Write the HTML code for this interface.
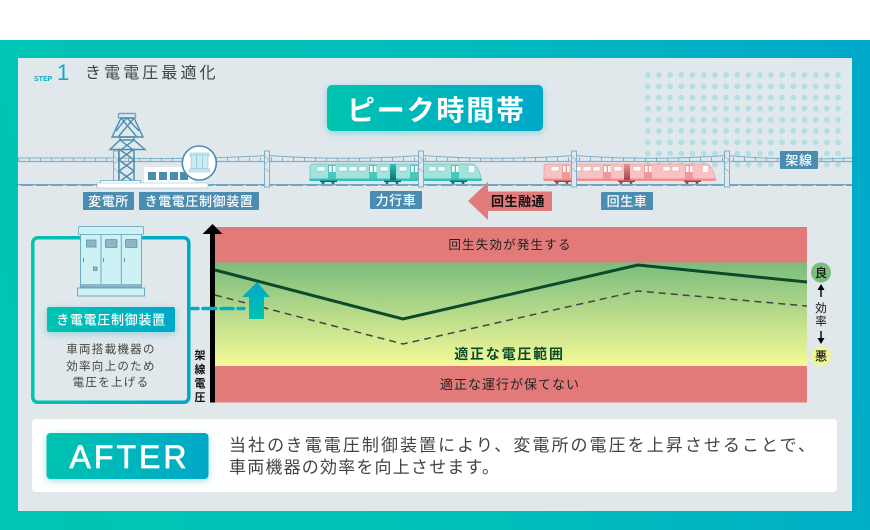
<!DOCTYPE html>
<html lang="ja"><head><meta charset="utf-8"><style>
html,body{margin:0;padding:0;background:#fff;width:870px;height:530px;overflow:hidden}
svg{display:block;position:absolute;left:0;top:0}
text{font-family:"Liberation Sans","Noto Sans CJK JP",sans-serif}
.w{fill:#fff;font-weight:500;font-size:13px;text-anchor:middle;letter-spacing:.6px}
.k{fill:#222;font-size:12.500px;text-anchor:middle;letter-spacing:1.200px}
.g{fill:#444;font-size:11.500px;text-anchor:middle;letter-spacing:1.300px}
.v{fill:#111;font-size:11px;text-anchor:middle;font-weight:700}
.b{fill:#4b8db1}
.l{stroke:#7fafc6;fill:none}
</style></head><body>
<svg width="870" height="530" viewBox="0 0 870 530" xmlns="http://www.w3.org/2000/svg">
<defs>
<linearGradient id="o" gradientUnits="userSpaceOnUse" x1="0" y1="400" x2="870" y2="180"><stop offset="0" stop-color="#00c5b2"/><stop offset=".5" stop-color="#00c0ba"/><stop offset="1" stop-color="#00a9c9"/></linearGradient>
<linearGradient id="h"><stop offset="0" stop-color="#00c4b0"/><stop offset="1" stop-color="#00a8c8"/></linearGradient>
<linearGradient id="hb" gradientUnits="userSpaceOnUse" x1="31" y1="0" x2="190" y2="0"><stop offset="0" stop-color="#00c4b0"/><stop offset="1" stop-color="#00a8c8"/></linearGradient>
<linearGradient id="up" x1="0" y1="1" x2="0" y2="0"><stop offset="0" stop-color="#00c4b0"/><stop offset="1" stop-color="#00a8c8"/></linearGradient>
<linearGradient id="gr" x1="0" y1="0" x2="0" y2="1"><stop offset="0" stop-color="#7abc7d"/><stop offset="1" stop-color="#f5f998"/></linearGradient>
<linearGradient id="gt" x1="0" y1="0" x2="0" y2="1"><stop offset="0" stop-color="#33c0b6"/><stop offset="1" stop-color="#0a6f72"/></linearGradient>
<linearGradient id="gp" x1="0" y1="0" x2="0" y2="1"><stop offset="0" stop-color="#ee9090"/><stop offset="1" stop-color="#9e4448"/></linearGradient>
<filter id="s" x="-20%" y="-40%" width="140%" height="190%"><feDropShadow dx="0" dy="2" stdDeviation="4" flood-color="#00a9b5" flood-opacity=".35"/></filter>
<g id="pole"><rect x="-2.500" y="-33" width="5" height="36" fill="#e0e8ec" stroke="#7fafc6"/><path d="M-2.500-28L2.500-24M2.500-24L-2.500-20M-2.500-16L2.500-12" stroke="#7fafc6" stroke-width=".6"/></g>
<g id="train">
<path d="M1 1Q1 0 3 0H163Q168 1 171 13V16H0V1Z" fill="var(--a)" stroke="var(--e)" stroke-width=".5"/>
<path d="M-1 14.500H172V16.500L169 17H0Z" fill="var(--b)"/>
<g fill="var(--b)" opacity=".8"><rect x="18" y="1" width="8" height="14"/><rect x="59" y="1" width="8" height="14"/><rect x="100" y="1" width="8" height="14"/><rect x="141" y="1" width="8" height="14"/></g>
<rect x="80" y="0" width="6" height="16" style="fill:var(--g)"/>
<g fill="#fff" stroke="var(--e)" stroke-width=".4"><rect x="7" y="2.500" width="8" height="4.500" rx="1"/><rect x="29" y="2.500" width="8" height="4.500" rx="1"/><rect x="39" y="2.500" width="8" height="4.500" rx="1"/><rect x="49" y="2.500" width="7" height="4.500" rx="1"/><rect x="70" y="2.500" width="8" height="4.500" rx="1"/><rect x="89" y="2.500" width="8" height="4.500" rx="1"/><rect x="119" y="2.500" width="7" height="4.500" rx="1"/><rect x="128" y="2.500" width="7" height="4.500" rx="1"/></g>
<g fill="#fff"><rect x="19" y="2" width="2.600" height="6"/><rect x="23" y="2" width="2.600" height="6"/><rect x="60" y="2" width="2.600" height="6"/><rect x="64" y="2" width="2.600" height="6"/><rect x="101" y="2" width="2.600" height="6"/><rect x="105" y="2" width="2.600" height="6"/><rect x="142" y="2" width="2.600" height="6"/><rect x="146" y="2" width="2.600" height="6"/><rect x="159" y="2" width="5" height="6"/></g>
<g fill="var(--d)"><rect x="10" y="16.500" width="17" height="1.500"/><circle cx="13" cy="18.500" r="1.500"/><circle cx="23" cy="18.500" r="1.500"/><rect x="74" y="16.500" width="17" height="1.500"/><circle cx="77" cy="18.500" r="1.500"/><circle cx="87" cy="18.500" r="1.500"/><rect x="140" y="16.500" width="17" height="1.500"/><circle cx="143" cy="18.500" r="1.500"/><circle cx="153" cy="18.500" r="1.500"/></g>
</g>
</defs>

<rect x="0" y="40" width="870" height="490" fill="url(#o)"/>
<rect x="18" y="58" width="834" height="453" fill="#e0e8ec"/>
<g stroke="#b1e0e4" stroke-width="5.800" stroke-linecap="round" stroke-dasharray="0 11.200" fill="none">
<path d="M647.700 75H845"/><path d="M647.700 86.200H845"/><path d="M647.700 97.400H845"/><path d="M647.700 108.600H845"/><path d="M647.700 119.800H845"/><path d="M647.700 131H845"/><path d="M647.700 142.200H845"/><path d="M647.700 153.400H845"/><path d="M647.700 164.600H845"/>
</g>

<text x="34" y="81" font-size="7" font-weight="700" fill="#12a9c4">STEP</text>
<text x="57" y="80" font-size="22" fill="#12a9c4">1</text>
<text x="85" y="78" font-size="16" fill="#3f4448" letter-spacing="3.100">き電電圧最適化</text>

<rect x="327" y="85" width="216" height="46" rx="5" fill="url(#h)" filter="url(#s)"/>
<text x="347" y="120" font-size="28" font-weight="700" fill="#fff" textLength="177">ピーク時間帯</text>

<!-- wires -->
<path d="M18 158H116Q190 160 267 155.500Q345 161 421 155.500Q498 161 574 155.500Q650 161 727 155.500Q790 161 852 158" class="l" stroke-width="1"/>
<path d="M18 161.500H852" class="l" stroke-width="1.200"/>
<path d="M18 159.500H852" stroke="#7fafc6" stroke-width="4" stroke-dasharray="1 10" fill="none"/>
<path d="M18 185H852" stroke="#4b8db1" stroke-width="1.600"/>
<path d="M18 185.800H852" stroke="#fff" stroke-width="1" stroke-dasharray="3 12" opacity=".8"/>

<use href="#pole" x="116" y="184"/><use href="#pole" x="267" y="184"/>

<g style="--a:#a4e2dc;--b:#33c0b6;--d:#0a6f72;--e:#4fb6ae;--g:url(#gt)"><use href="#train" x="310" y="164"/></g>
<g style="--a:#f8c2c2;--b:#ee9090;--d:#9e4448;--e:#e58a8a;--g:url(#gp)"><use href="#train" x="544" y="164"/></g>
<use href="#pole" x="421" y="184"/><use href="#pole" x="574" y="184"/><use href="#pole" x="727" y="184"/>

<!-- tower -->
<g stroke="#4b8db1" fill="none" stroke-width="1.400">
<rect x="118.500" y="113.500" width="17" height="4.500" rx="1" fill="#e0e8ec" stroke="#6fa6bf"/>
<path d="M121 118L112 137H143L134 118Z"/>
<path d="M110 149.500L120 140H134L145 149.500Z"/>
<path d="M121 118L137 137M134 118L118 137M126.500 118L116 131M127 118L139 131M120 137H134M120 137V140M134 137V140M120 140L132 149M134 140L122 149"/>
<path d="M119 149V182M134 149V182M119 149L134 160L119 171L134 182M134 149L119 160L134 171L119 182" stroke-width="1.500"/>
</g>
<!-- building -->
<rect x="144" y="167" width="50" height="16" fill="#fff"/>
<g class="b"><rect x="148" y="172" width="8" height="8"/><rect x="159" y="172" width="8" height="8"/><rect x="170" y="172" width="8" height="8"/><rect x="180" y="172" width="8" height="8"/></g>
<rect x="100.500" y="180.500" width="40" height="3" fill="#fff" stroke="#5c9cba" stroke-width=".7"/>
<rect x="97" y="183" width="111" height="5" rx="1" fill="#fff" stroke="#8dbcd0" stroke-width=".6"/>
<circle cx="199.300" cy="163" r="17" fill="#fff" stroke="#4b8db1" stroke-width="1.600"/>
<rect x="190" y="153" width="19" height="3" fill="#c9eef2" stroke="#6fa9c0" stroke-width=".4"/>
<rect x="191" y="155" width="17" height="14" fill="#c9eef2" stroke="#6fa9c0" stroke-width=".4"/>
<path d="M196.700 155V169M202.300 155V169" stroke="#6fa9c0" stroke-width=".5"/>
<rect x="189.500" y="169" width="20" height="3" fill="#c9eef2" stroke="#6fa9c0" stroke-width=".4"/>

<!-- labels -->
<rect x="83" y="192" width="51" height="18" rx="1" class="b"/><text x="108.500" y="206" class="w">変電所</text>
<rect x="139" y="192" width="120" height="18" rx="1" class="b"/><text x="199" y="206" class="w">き電電圧制御装置</text>
<rect x="370" y="191" width="52" height="18" rx="1" class="b"/><text x="396" y="205" class="w">力行車</text>
<rect x="601" y="192" width="52" height="18" rx="1" class="b"/><text x="627" y="206" class="w">回生車</text>
<rect x="780" y="151" width="38" height="18" rx="1" class="b"/><text x="799" y="165" class="w">架線</text>

<path d="M468 201L488 182V191.500H552V211H488V220Z" fill="#e27b7b"/>
<text x="518" y="206" font-size="13" font-weight="700" fill="#111" text-anchor="middle" letter-spacing=".5">回生融通</text>

<!-- chart -->
<rect x="215" y="227" width="592" height="36" fill="#e27a7a"/>
<rect x="215" y="262.500" width="592" height="103.500" fill="url(#gr)"/>
<rect x="215" y="366" width="592" height="36.500" fill="#e27a7a"/>
<path d="M215 295L403 344L638 291L807 306" fill="none" stroke="#444" stroke-width="1.500" stroke-dasharray="7 5"/>
<path d="M215 270L403 319L638 265L807 282" fill="none" stroke="#0b4a2b" stroke-width="3"/>
<rect x="210" y="232" width="5" height="170.500" fill="#000"/>
<path d="M212.500 224L222.500 234H202.500Z" fill="#000"/>
<path d="M192 308.500H245" stroke="#00aeca" stroke-width="3.500" stroke-linecap="round" stroke-dasharray="6 5 13 5 12 5" fill="none"/>
<path d="M257 282L270 297H264V319H249V297H242Z" fill="url(#up)"/>

<text x="510" y="249" class="k">回生失効が発生する</text>
<text x="509.500" y="359" font-size="14" font-weight="700" fill="#0b4a2b" text-anchor="middle" letter-spacing="1.800">適正な電圧範囲</text>
<text x="510" y="389" font-size="13" fill="#222" text-anchor="middle" letter-spacing="1">適正な運行が保てない</text>

<text x="200" y="359" class="v">架</text><text x="200" y="373" class="v">線</text><text x="200" y="387" class="v">電</text><text x="200" y="401" class="v">圧</text>

<!-- right scale -->
<circle cx="821" cy="272.500" r="10" fill="#7abc7d"/><text x="821" y="277" font-size="12" fill="#111" font-weight="500" text-anchor="middle">良</text>
<path d="M821 297V288" stroke="#000" stroke-width="1.400"/><path d="M821 284L824.500 290H817.500Z"/>
<text x="821" y="312" font-size="11.500" fill="#111" text-anchor="middle">効</text>
<text x="821" y="325" font-size="11.500" fill="#111" text-anchor="middle">率</text>
<path d="M821 331V340" stroke="#000" stroke-width="1.400"/><path d="M821 344L824.500 338H817.500Z"/>
<circle cx="821" cy="356" r="10" fill="#eef696"/><text x="821" y="360.500" font-size="12" fill="#111" font-weight="500" text-anchor="middle">悪</text>

<!-- device box -->
<rect x="32.800" y="237.800" width="156" height="164.500" rx="5" fill="#e0e8ec" stroke="url(#hb)" stroke-width="3.500"/>
<rect x="80.500" y="234" width="61" height="53" fill="#cdf1f5" stroke="#6fa9c0"/>
<path d="M101 234V287M121.300 234V287" stroke="#6fa9c0"/>
<rect x="78.500" y="226.500" width="65" height="8" rx="1" fill="#cdf1f5" stroke="#7cb2c6"/>
<rect x="81" y="284" width="60" height="2.500" fill="#8fb6c8"/>
<rect x="77.500" y="288" width="67" height="8" fill="#cdf1f5" stroke="#6fa9c0"/>
<g fill="#8fb6c4" stroke="#5b93ab" stroke-width=".8"><rect x="86.500" y="240" width="9.500" height="7"/><rect x="105.500" y="239.500" width="11.500" height="8" rx="1"/><rect x="125.500" y="239.500" width="11.500" height="8" rx="1"/><rect x="93.500" y="267" width="3.500" height="3.500"/></g>
<path d="M83.500 258V262M103.500 258V262M124.500 258V262" stroke="#5b93ab" stroke-width="1"/>
<rect x="47" y="307" width="128" height="25" rx="2" fill="url(#h)" filter="url(#s)"/>
<text x="111" y="324.500" font-size="13" font-weight="500" fill="#fff" text-anchor="middle" letter-spacing=".7">き電電圧制御装置</text>
<text x="111" y="353" class="g">車両搭載機器の</text>
<text x="111" y="370" class="g">効率向上のため</text>
<text x="111" y="386" class="g">電圧を上げる</text>

<!-- AFTER -->
<rect x="32" y="419" width="805" height="73" rx="4" fill="#fff"/>
<rect x="46.500" y="433" width="162" height="46" rx="4" fill="url(#h)" filter="url(#s)"/>
<text x="69.500" y="468" font-size="32" fill="#fff" stroke="#fff" stroke-width=".7" textLength="117">AFTER</text>
<text x="229" y="451" font-size="17" fill="#3f4448" textLength="586">当社のき電電圧制御装置により、変電所の電圧を上昇させることで、</text>
<text x="229" y="473" font-size="17" fill="#3f4448" textLength="270">車両機器の効率を向上させます。</text>
</svg>
</body></html>
